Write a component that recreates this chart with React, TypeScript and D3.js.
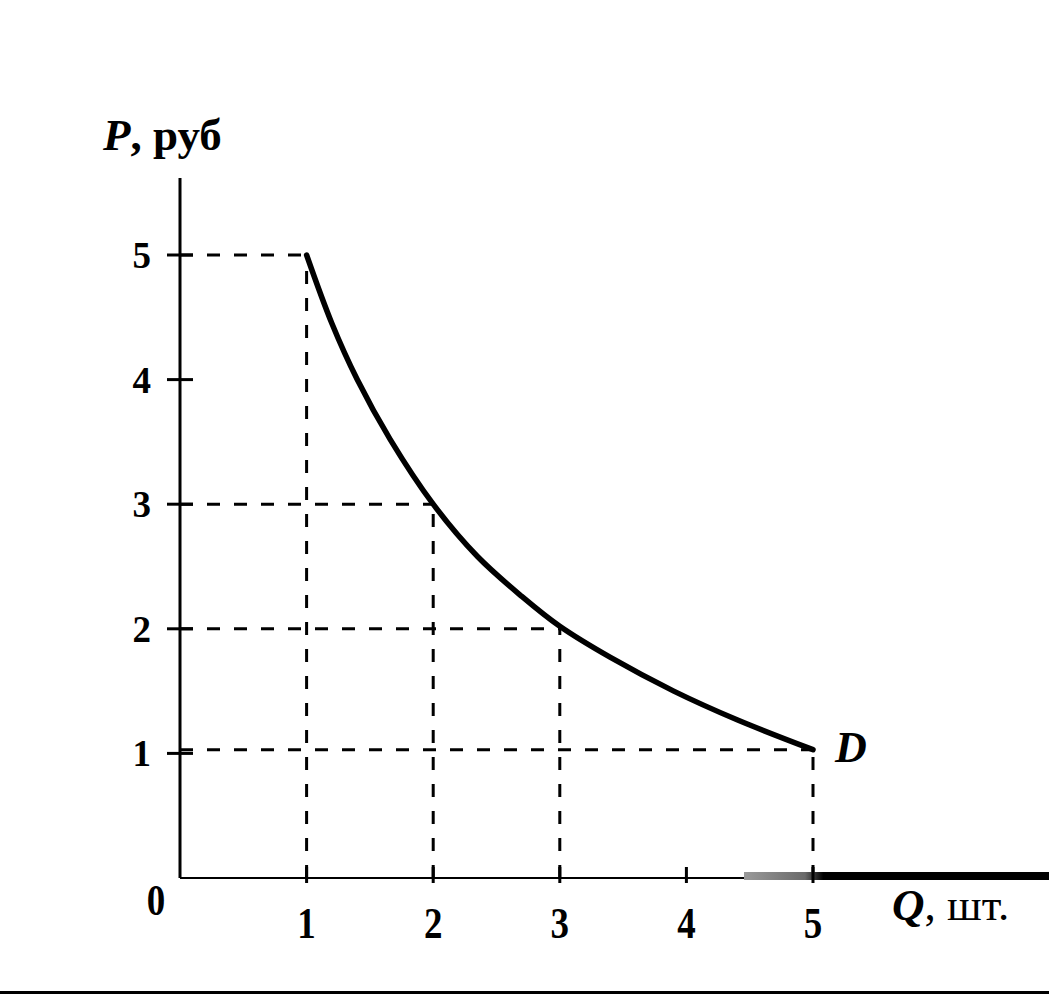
import React from "react";
import * as d3 from "d3";

const qTicks = [1, 2, 3, 4, 5];
const pTicks = [1, 2, 3, 4, 5];
const curveQ = [1, 1.2, 1.4, 1.66, 2, 2.35, 2.7, 3, 3.4, 3.9, 4.4, 5];
const curveP = [5, 4.45, 4.0, 3.52, 3.0, 2.58, 2.26, 2.02, 1.77, 1.5, 1.27, 1.03];
const guideQ = [1, 2, 3, 5];
const guideP = [5, 3, 2, 1.03];

const W = 1049;
const H = 994;

export default function App() {
  const x = d3.scaleLinear().domain([0, 5]).range([180, 813]);
  const y = d3.scaleLinear().domain([0, 5]).range([878, 255]);
  const pts = curveQ.map((q, i) => [q, curveP[i]] as [number, number]);
  const line = d3
    .line<[number, number]>()
    .x((d) => x(d[0]))
    .y((d) => y(d[1]))
    .curve(d3.curveCatmullRom.alpha(0.5));
  const font = "'Liberation Serif', 'DejaVu Serif', serif";
  const dash = "13 14";
  return (
    <svg
      width={W}
      height={H}
      style={{ position: "absolute", left: 0, top: 0, display: "block", background: "#fff" }}
    >
      <defs>
        <linearGradient id="bar" gradientUnits="userSpaceOnUse" x1={744} x2={W} y1={0} y2={0}>
          <stop offset="0" stopColor="#9a9a9a" />
          <stop offset="0.2" stopColor="#6a6a6a" />
          <stop offset="0.26" stopColor="#000" />
          <stop offset="1" stopColor="#000" />
        </linearGradient>
      </defs>
      <rect width={W} height={H} fill="#fff" />
      {/* dashed guides */}
      {guideQ.map((q, i) => (
        <g key={"g" + i} stroke="#000" strokeWidth={3} strokeDasharray={dash} fill="none">
          <line x1={x(0)} x2={x(q)} y1={y(guideP[i])} y2={y(guideP[i])} />
          <line x1={x(q)} x2={x(q)} y1={y(0)} y2={y(guideP[i])} />
        </g>
      ))}
      {/* axes */}
      <line x1={x(0)} x2={x(0)} y1={178} y2={y(0)} stroke="#000" strokeWidth={3} />
      <line x1={x(0)} x2={744} y1={y(0)} y2={y(0)} stroke="#000" strokeWidth={2} />
      <rect x={744} y={872} width={W - 744} height={8} fill="url(#bar)" />
      <rect x={0} y={991} width={W} height={3} fill="#000" />
      {pTicks.map((p) => (
        <g key={"pt" + p}>
          <line x1={167} x2={193} y1={y(p)} y2={y(p)} stroke="#000" strokeWidth={3} />
          <text
            x={151}
            y={y(p) + 13}
            textAnchor="end"
            fontFamily={font}
            fontWeight="bold"
            fontSize={37}
          >
            {p}
          </text>
        </g>
      ))}
      {qTicks.map((q) => (
        <g key={"qt" + q}>
          <line x1={x(q)} x2={x(q)} y1={y(0) - 11} y2={y(0) + 5} stroke="#000" strokeWidth={3} />
          <text
            transform={`translate(${x(q)},938) scale(1,1.22)`}
            textAnchor="middle"
            fontFamily={font}
            fontWeight="bold"
            fontSize={37}
          >
            {q}
          </text>
        </g>
      ))}
      <text
        transform="translate(156,915) scale(1,1.2)"
        textAnchor="middle"
        fontFamily={font}
        fontWeight="bold"
        fontSize={37}
      >
        0
      </text>
      {/* curve */}
      <path d={line(pts) || ""} fill="none" stroke="#000" strokeWidth={5.5} strokeLinecap="round" />
      {/* labels */}
      <text x={103} y={150} fontFamily={font} fontSize={45}>
        <tspan fontStyle="italic" fontWeight="bold">P</tspan>
        <tspan fontWeight="bold">, руб</tspan>
      </text>
      <text x={835} y={762} fontFamily={font} fontSize={44} fontStyle="italic" fontWeight="bold">
        D
      </text>
      <text x={892} y={920} fontFamily={font} fontSize={45}>
        <tspan fontStyle="italic" fontWeight="bold">Q</tspan>
        <tspan>, шт.</tspan>
      </text>
    </svg>
  );
}
